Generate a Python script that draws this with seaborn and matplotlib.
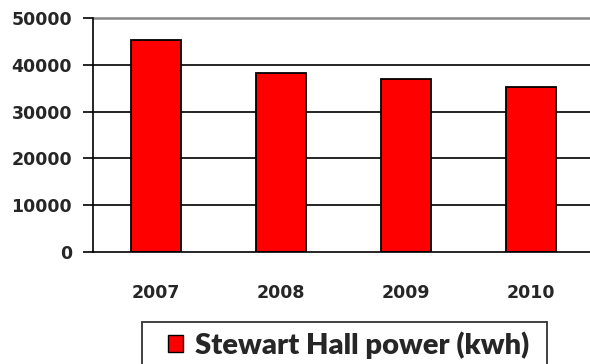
import matplotlib
matplotlib.use("Agg")
import matplotlib.pyplot as plt
import seaborn as sns
import pandas as pd
from matplotlib.patches import Patch, Rectangle

years = ["2007", "2008", "2009", "2010"]
power = [45200, 38300, 37000, 35300]
series_name = "Stewart Hall power (kwh)"
yticks = [0, 10000, 20000, 30000, 40000, 50000]

sns.set_style("white")
plt.rcParams['font.family'] = ['DejaVu Sans']

df = pd.DataFrame({"year": years, "power": power})

W, H = 590, 364
fig = plt.figure(figsize=(W/100, H/100), dpi=100)
ax = fig.add_axes([93/W, 1-252/H, 500/W, (252-18)/H])

sns.barplot(data=df, x="year", y="power", color="#FF0000", saturation=1,
            edgecolor="black", linewidth=1.3, width=0.4, ax=ax, zorder=3)

ax.set_ylim(0, 50000)
ax.set_xlim(-0.5, 3.5)
ax.set_yticks(yticks)
ax.set_yticklabels([str(v) for v in yticks], fontsize=12.5, fontweight="bold")
for v in yticks[1:-1]:
    ax.axhline(v, color="black", lw=1.2, zorder=1)
ax.axhline(50000, color="#888888", lw=1.8, zorder=1, clip_on=False)

ax.set_xticks(range(len(years)))
ax.set_xticklabels(years, fontsize=12.5, fontweight="bold")
ax.tick_params(axis="x", which="major", length=0, pad=23)
ax.set_xticks([-0.5, 0.5, 1.5, 2.5], minor=True)
ax.tick_params(axis="x", which="minor", length=7, width=1.2, color="black", direction="out")
ax.tick_params(axis="y", length=7, width=1.2, color="black", direction="out", pad=8, left=True)

ax.set_xlabel("")
ax.set_ylabel("")
for s in ["top", "right"]:
    ax.spines[s].set_visible(False)
for s in ["left", "bottom"]:
    ax.spines[s].set_color("black")
    ax.spines[s].set_linewidth(1.2)
ax.spines["bottom"].set_zorder(4)

# legend frame
frame = Rectangle((142/W, -0.05), (547-142)/W, 1-322/H+0.05, transform=fig.transFigure,
                  facecolor="white", edgecolor="#333333", linewidth=1.3)
fig.add_artist(frame)

fs = 21
fs_px = fs * 100 / 72
handle = Patch(facecolor="#FF0000", edgecolor="black", linewidth=1.0)
leg = fig.legend([handle], [series_name], loc="center left",
                 bbox_to_anchor=(168/W, 1-345/H), borderaxespad=0, borderpad=0,
                 frameon=False, handlelength=15/fs_px, handleheight=15/fs_px,
                 handletextpad=12/fs_px,
                 prop={"family": "Lato", "weight": "heavy", "size": fs})

fig.savefig("out.png", dpi=100)
